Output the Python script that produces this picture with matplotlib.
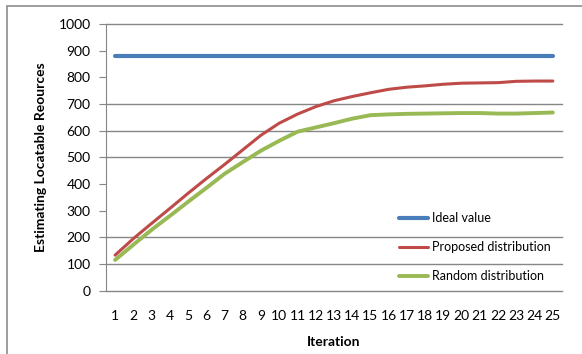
import numpy as np
import matplotlib.pyplot as plt
from matplotlib.patches import Rectangle

iterations = list(range(1, 26))
ideal = [880] * 25
proposed = [133, 195, 252, 308, 365, 420, 473, 528, 583, 628, 662, 690, 712, 728, 742,
            755, 763, 768, 774, 778, 779, 780, 785, 786, 786]
random_dist = [115, 172, 228, 280, 333, 385, 438, 482, 525, 562, 596, 612, 628, 645, 658,
               661, 663, 664, 665, 666, 666, 664, 664, 666, 668]
y_ticks = list(range(0, 1001, 100))
grid_levels = [0, 100, 200, 500, 600, 700, 1000]

plt.rcParams['font.family'] = ['Lato', 'DejaVu Sans']

fig = plt.figure(figsize=(5.82, 3.54), dpi=100)
ax = fig.add_axes([0.1821, 0.1791, 0.7835, 0.7531])

# chart frame, running off the right and bottom edges
fig.patches.append(Rectangle((7 / 582, -0.1), 1.2, 348 / 354 + 0.1,
                             transform=fig.transFigure, fill=False,
                             edgecolor='#8c8c8c', linewidth=1.2))

for g in grid_levels:
    ax.axhline(g, color='#868686', linewidth=1, zorder=1, clip_on=False)

ax.plot(iterations, ideal, color='#4a7ebb', linewidth=3, solid_capstyle='round',
        label='Ideal value', zorder=3)
ax.plot(iterations, proposed, color='#be4b48', linewidth=2.2, solid_capstyle='round',
        label='Proposed distribution', zorder=3)
ax.plot(iterations, random_dist, color='#98b954', linewidth=2.8, solid_capstyle='round',
        label='Random distribution', zorder=2)

ax.set_xlim(0.5, 25.5)
ax.set_ylim(0, 1000)
ax.set_yticks(y_ticks)
ax.set_xticks(iterations)
ax.set_xticklabels([str(i) for i in iterations])

for side in ['top', 'right', 'bottom']:
    ax.spines[side].set_visible(False)
ax.spines['left'].set_color('#868686')
ax.tick_params(axis='y', length=5, color='#868686', labelsize=10, pad=6)
ax.tick_params(axis='x', length=0, labelsize=10, pad=14)

ax.set_ylabel('Estimating Locatable Reources', fontsize=10, fontweight='bold', labelpad=8)
ax.set_xlabel('Iteration', fontsize=10, fontweight='bold', labelpad=10)

leg = ax.legend(loc='lower right', bbox_to_anchor=(1.0, -0.01), frameon=False,
                fontsize=9, handlelength=2.3, labelspacing=1.35, handletextpad=0.3)

fig.savefig('out.png', dpi=100)
